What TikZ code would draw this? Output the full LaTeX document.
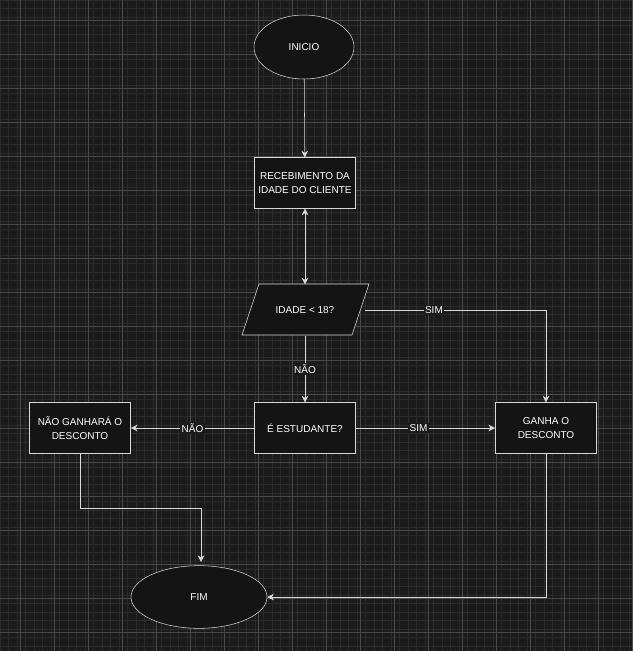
\documentclass[tikz,border=0pt]{standalone}
\usepackage{fontspec}
\setmainfont{Liberation Sans}
\usetikzlibrary{arrows.meta,shapes.geometric}
\definecolor{bgdark}{HTML}{1B1B1B}
\definecolor{boxfill}{HTML}{141414}
\tikzset{
    box/.style={draw=white!85!black, fill=boxfill, text=white, minimum width=76pt, minimum height=38pt, align=center, inner sep=2pt}, % caixas
    term/.style={ellipse, draw=white!85!black, fill=boxfill, text=white}, % inicio e fim
    flow/.style={draw=white!85!black, -{Stealth[length=5pt,width=5pt]}},
    tag/.style={fill=bgdark, text=white, inner sep=1pt}
}
\begin{document}
\begin{tikzpicture}[x=0.75pt, y=-0.75pt, font=\fontsize{7.5}{10}\selectfont]
    \fill[bgdark] (0,0) rectangle (633,651);
    \useasboundingbox (0,0) rectangle (633,651);
    \foreach \g in {0,8.5,...,651} {\draw[white!7!bgdark, line width=0.3pt] (\g,0) -- (\g,651) (0,\g) -- (633,\g);}
    \foreach \g in {20,54,...,651} {\draw[white!20!bgdark, line width=0.5pt] (\g,0) -- (\g,651) (0,\g) -- (633,\g);}

    \node[term, minimum width=75pt, minimum height=48pt] (inicio) at (304,47) {INICIO};
    \node[box] (receb) at (305,183) {RECEBIMENTO DA\\IDADE DO CLIENTE};
    % paralelogramo da decisao
    \fill[boxfill] (259,284) -- (369,284) -- (352,335) -- (242,335) -- cycle;
    \draw[white!85!black] (259,284) -- (369,284) -- (352,335) -- (242,335) -- cycle;
    \node[text=white, minimum width=90pt, minimum height=38pt, inner sep=0pt] (idade) at (305,310) {IDADE < 18?};
    \node[box] (estud) at (305,428) {É ESTUDANTE?};
    \node[box] (nao) at (80,428) {NÃO GANHARÁ O\\DESCONTO};
    \node[box] (ganha) at (546,428) {GANHA O\\DESCONTO};
    \node[term, minimum width=102pt, minimum height=47pt] (fim) at (199,597) {FIM};

    \draw[flow] (inicio) -- (receb);
    \draw[flow, {Stealth[length=5pt,width=5pt]}-{Stealth[length=5pt,width=5pt]}] (receb) -- (idade);
    \draw[flow] (idade.east) -- (546,310) node[tag, pos=0.38] {SIM} -- (ganha.north);
    \draw[flow] (idade) -- (estud) node[tag, midway] {NÃO};
    \draw[flow] (estud) -- (nao) node[tag, midway] {NÃO};
    \draw[flow] (estud) -- (ganha) node[tag, pos=0.45] {SIM};
    \draw[flow] (nao.south) -- (80,508) -- (201,508) -- (201,562);
    \draw[flow] (ganha.south) -- (546,597) -- (fim.east);
\end{tikzpicture}
\end{document}
